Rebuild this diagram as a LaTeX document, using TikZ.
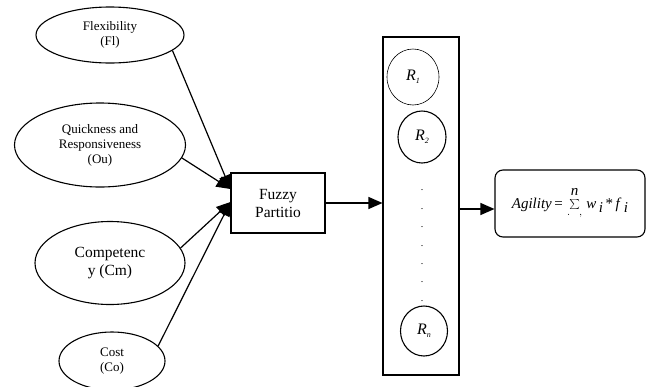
\documentclass[tikz,border=0pt]{standalone}
\usepackage{fontspec}
\setmainfont{Liberation Serif}
\usetikzlibrary{shapes,arrows.meta,positioning,calc}

\begin{document}
\begin{tikzpicture}[
    x=1pt, y=-1pt,
    crit/.style={ellipse, draw, inner sep=0pt, align=center, line width=1.1pt,
                 font=\fontsize{13}{15}\selectfont},
    rule/.style={ellipse, draw, inner sep=0pt, line width=1.1pt,
                 font=\fontsize{16}{18}\selectfont\itshape},
    blk/.style={rectangle, draw, inner sep=0pt, align=center, line width=1.1pt,
                font=\fontsize{15.5}{18}\selectfont},
    flow/.style={-{Triangle[length=14pt,width=12pt]}, line width=1.2pt},
]
\useasboundingbox (0,0) rectangle (653,386);

% --- Agility criteria
\node[crit, minimum width=148pt, minimum height=56pt] (fl) at (110,35)
    {Flexibility\\(Fl)};
\node[crit, minimum width=171pt, minimum height=84pt] (qu) at (100,145)
    {Quickness and\\Responsiveness\\(Ou)};
\node[crit, minimum width=150pt, minimum height=83pt,
      font=\fontsize{15.5}{18}\selectfont] (cm) at (110,263)
    {Competenc\\y (Cm)};
\node[crit, minimum width=106pt, minimum height=58pt] (co) at (112,361)
    {Cost\\(Co)};

% --- Fuzzy partition and rule base
\node[blk, minimum width=94pt, minimum height=60pt] (fuzzy) at (278,203)
    {Fuzzy\\Partitio};
\node[blk, minimum width=76pt, minimum height=338pt] (rules) at (421,206) {};
\node[rule, minimum width=52pt, minimum height=56pt, line width=0.6pt] (r1) at (413,77)
    {R\raisebox{-3pt}{\fontsize{8}{8}\selectfont 1}};
\node[rule, minimum width=48pt, minimum height=52pt] (r2) at (422,137)
    {R\raisebox{-3pt}{\fontsize{8}{8}\selectfont 2}};
\node[rule, minimum width=47pt, minimum height=50pt] (rn) at (424,331)
    {R\raisebox{-3pt}{\fontsize{8}{8}\selectfont n}};
\foreach \y [count=\k] in {190,209,227,246,264,282,301}
    \node[inner sep=0pt, font=\fontsize{10}{10}\selectfont] (dot\k) at (422,\y) {.};

% --- Agility index
\node[blk, rounded corners=8pt, minimum width=150pt, minimum height=67pt,
      font=\fontsize{15}{18}\selectfont] (agil) at (570,203.5)
    {\textit{Agility}\,=\;$\sum\limits^{\raisebox{2pt}{\textit{n}}}_{.\;\;\;,}$\;\textit{w}\raisebox{-4pt}{\,\textit{i}}\,*\,\textit{f}\raisebox{-4pt}{\,\textit{i}}};

% --- Inputs into the partition
\coordinate (in1) at ($(fuzzy.west)+(0,-14)$);
\coordinate (in2) at ($(fuzzy.west)+(0,-1)$);
\draw[flow] (fl.-14) -- (in1);
\draw[flow] (qu.-9) -- (in1);
\draw[flow] (cm.12) -- (in2);
\draw[flow] (co.18) -- (in2);

% --- Partition to rules to agility
\coordinate (out) at ($(rules.east)+(0,3)$);
\draw[flow] (fuzzy.east) -- (fuzzy.east -| rules.west);
\draw[flow] (out) -- (out -| agil.west);
\end{tikzpicture}
\end{document}
